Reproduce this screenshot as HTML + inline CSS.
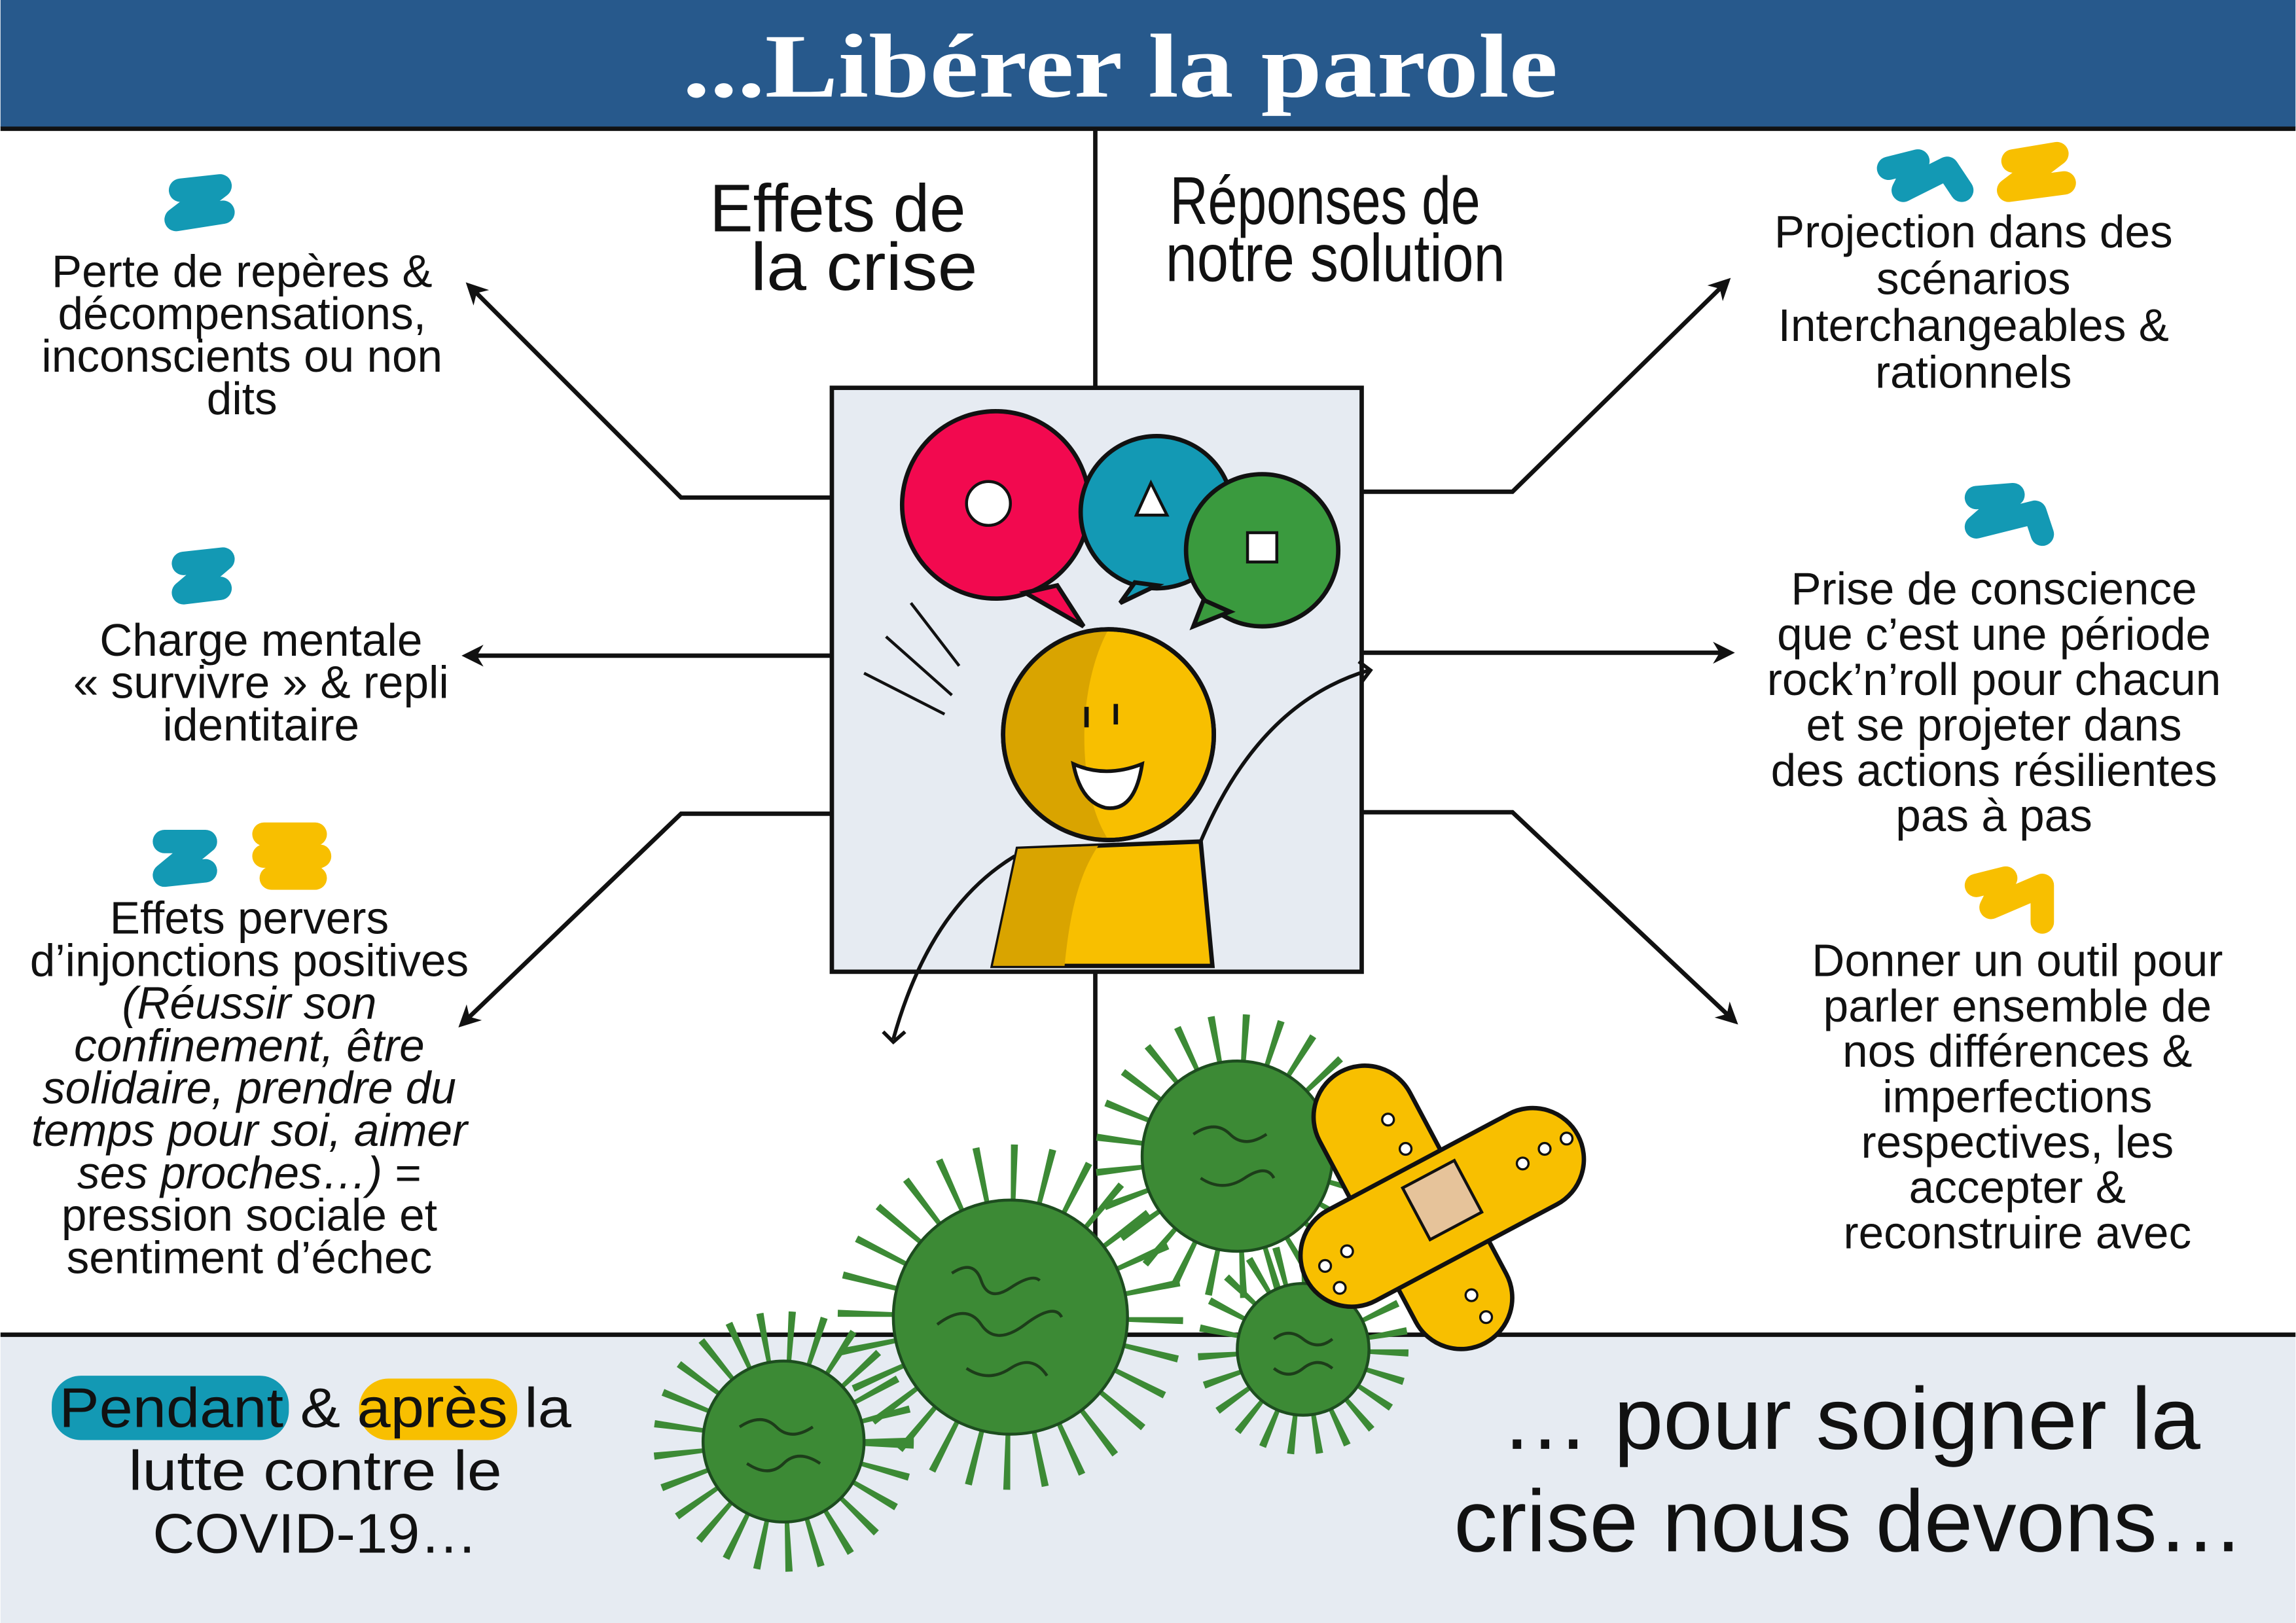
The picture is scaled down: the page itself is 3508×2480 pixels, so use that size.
<!DOCTYPE html>
<html><head><meta charset="utf-8">
<style>html,body{margin:0;padding:0;background:#fff}svg{display:block}</style></head>
<body>
<svg width="3508" height="2480" viewBox="0 0 1568 1109" xmlns="http://www.w3.org/2000/svg" font-family="Liberation Sans, sans-serif">
<defs>
<marker id="ah" viewBox="0 0 10 10" refX="8" refY="5" markerWidth="5" markerHeight="5" orient="auto"><path d="M0,0 L10,5 L0,10 L3,5 Z" fill="#111"/></marker>
</defs>
<rect width="1568" height="1109" fill="#fff"/>
<rect x="0" y="0" width="1568" height="87" fill="#27598c"/>
<text x="765" y="66" text-anchor="middle" font-family="Liberation Serif, serif" font-weight="bold" font-size="62" fill="#fff" textLength="598" lengthAdjust="spacingAndGlyphs">...Libérer la parole</text>
<line x1="0" y1="88" x2="1568" y2="88" stroke="#111" stroke-width="3"/>
<rect x="0" y="912" width="1568" height="197" fill="#e6ebf2"/>
<line x1="0" y1="912" x2="1568" y2="912" stroke="#111" stroke-width="3"/>
<line x1="748" y1="88" x2="748" y2="265" stroke="#111" stroke-width="3"/>
<line x1="748" y1="664" x2="748" y2="912" stroke="#111" stroke-width="3"/>
<g font-family="Liberation Sans Narrow, Liberation Sans, sans-serif" font-size="46" fill="#111">
<text x="572" y="158" text-anchor="middle" textLength="175" lengthAdjust="spacingAndGlyphs">Effets de</text>
<text x="590" y="198" text-anchor="middle" textLength="155" lengthAdjust="spacingAndGlyphs">la crise</text>
<text x="905" y="153" text-anchor="middle" textLength="212" lengthAdjust="spacingAndGlyphs">Réponses de</text>
<text x="912" y="192" text-anchor="middle" textLength="232" lengthAdjust="spacingAndGlyphs">notre solution</text>
</g>
<rect x="568" y="265" width="362" height="399" fill="#e6ebf2" stroke="#111" stroke-width="3"/>
<circle cx="680" cy="345" r="64" fill="#f2094f" stroke="#111" stroke-width="3"/>
<path d="M700,405 L740,428 L722,400 Z" fill="#f2094f" stroke="#111" stroke-width="3"/>
<circle cx="675" cy="344" r="15" fill="#fff" stroke="#111" stroke-width="2"/>
<circle cx="790" cy="350" r="52" fill="#1399b4" stroke="#111" stroke-width="3"/>
<path d="M775,398 L765,412 L790,400 Z" fill="#1399b4" stroke="#111" stroke-width="3"/>
<path d="M786,330 L776,352 L797,352 Z" fill="#fff" stroke="#111" stroke-width="2"/>
<circle cx="862" cy="376" r="52" fill="#3a9a3e" stroke="#111" stroke-width="3"/>
<path d="M822,410 L815,428 L840,418 Z" fill="#3a9a3e" stroke="#111" stroke-width="3"/>
<rect x="852" y="364" width="20" height="20" fill="#fff" stroke="#111" stroke-width="2"/>
<path d="M622,412 L655,455 M605,435 L650,475 M590,460 L645,488" stroke="#111" stroke-width="2" fill="none"/>
<path d="M695,580 L820,575 L828,660 L678,660 Z" fill="#f8bf00" stroke="#111" stroke-width="3"/>
<path d="M695,580 L750,578 C735,600 730,630 727,660 L678,660 Z" fill="#d9a400"/>
<circle cx="757" cy="502" r="72" fill="#f8bf00" stroke="#111" stroke-width="3"/>
<path d="M757,430 A72,72 0 0 0 757,574 C735,540 735,470 757,430 Z" fill="#d9a400"/>
<circle cx="757" cy="502" r="72" fill="none" stroke="#111" stroke-width="3"/>
<path d="M742,483 V497 M762,481 V495" stroke="#111" stroke-width="3"/>
<path d="M733,522 Q755,532 780,522 Q775,555 755,552 Q738,548 733,522 Z" fill="#fff" stroke="#111" stroke-width="2.5"/>
<path d="M693,585 Q635,620 610,710 M603,705 L610,712 L618,705" stroke="#111" stroke-width="2.5" fill="none"/>
<path d="M820,575 Q860,480 935,458 M928,452 L936,458 L930,466" stroke="#111" stroke-width="2.5" fill="none"/>
<g stroke="#111" stroke-width="3" fill="none">
<path d="M568,340 H465 L320,195" marker-end="url(#ah)"/>
<path d="M568,448 H318" marker-end="url(#ah)"/>
<path d="M568,556 H465 L315,700" marker-end="url(#ah)"/>
<path d="M930,336 H1033 L1180,192" marker-end="url(#ah)"/>
<path d="M930,446 H1182" marker-end="url(#ah)"/>
<path d="M930,555 H1033 L1185,698" marker-end="url(#ah)"/>
</g>
<g stroke-linecap="round" stroke-linejoin="round" fill="none" stroke-width="16">
<path d="M123,130 L150,127 L120,150 L152,145" stroke="#1399b4"/>
<path d="M125,385 L152,382 L125,405 L150,402" stroke="#1399b4"/>
<path d="M112,575 L140,575 L112,598 L140,595" stroke="#1399b4"/>
<path d="M180,570 L215,570 L180,585 L218,585 L185,600 L215,600" stroke="#f8bf00"/>
<path d="M1290,115 L1310,110 L1300,130 L1330,115 L1340,130" stroke="#1399b4"/>
<path d="M1375,110 L1405,105 L1372,130 L1410,125" stroke="#f8bf00"/>
<path d="M1350,340 L1375,338 L1350,360 L1390,350 L1395,365" stroke="#1399b4"/>
<path d="M1350,605 L1370,600 L1360,620 L1395,605 L1395,630" stroke="#f8bf00"/>
</g>
<g font-size="31" fill="#111" text-anchor="middle">
<text x="165" y="196">Perte de repères &amp;</text>
<text x="165" y="225">décompensations,</text>
<text x="165" y="254">inconscients ou non</text>
<text x="165" y="283">dits</text>
<text x="178" y="448">Charge mentale</text>
<text x="178" y="477">« survivre » &amp; repli</text>
<text x="178" y="506">identitaire</text>
<text x="170" y="638">Effets pervers</text>
<text x="170" y="667">d’injonctions positives</text>
<g font-style="italic">
<text x="170" y="696">(Réussir son</text>
<text x="170" y="725">confinement, être</text>
<text x="170" y="754">solidaire, prendre du</text>
<text x="170" y="783">temps pour soi, aimer</text>
<text x="170" y="812">ses proches…) <tspan font-style="normal">=</tspan></text>
</g>
<text x="170" y="841">pression sociale et</text>
<text x="170" y="870">sentiment d’échec</text>
<text x="1348" y="169">Projection dans des</text>
<text x="1348" y="201">scénarios</text>
<text x="1348" y="233">Interchangeables &amp;</text>
<text x="1348" y="265">rationnels</text>
<text x="1362" y="413">Prise de conscience</text>
<text x="1362" y="444">que c’est une période</text>
<text x="1362" y="475">rock’n’roll pour chacun</text>
<text x="1362" y="506">et se projeter dans</text>
<text x="1362" y="537">des actions résilientes</text>
<text x="1362" y="568">pas à pas</text>
<text x="1378" y="667">Donner un outil pour</text>
<text x="1378" y="698">parler ensemble de</text>
<text x="1378" y="729">nos différences &amp;</text>
<text x="1378" y="760">imperfections</text>
<text x="1378" y="791">respectives, les</text>
<text x="1378" y="822">accepter &amp;</text>
<text x="1378" y="853">reconstruire avec</text>
</g>
<rect x="35" y="940" width="162" height="44" rx="20" fill="#1399b4"/>
<rect x="245" y="942" width="108" height="42" rx="20" fill="#f8bf00"/>
<g font-size="38" fill="#111" text-anchor="middle">
<text x="215" y="975" textLength="350" lengthAdjust="spacingAndGlyphs">Pendant &amp; après la</text>
<text x="215" y="1018" textLength="255" lengthAdjust="spacingAndGlyphs">lutte contre le</text>
<text x="215" y="1061" textLength="222" lengthAdjust="spacingAndGlyphs">COVID-19…</text>
</g>
<g font-size="60" fill="#111" text-anchor="middle">
<text x="1264" y="990" textLength="478" lengthAdjust="spacingAndGlyphs">… pour soigner la</text>
<text x="1263" y="1060" textLength="540" lengthAdjust="spacingAndGlyphs">crise nous devons…</text>
</g>
<g stroke="#1d4d1f" fill="#3c8a35">
<circle cx="845" cy="790" r="80" fill="none" stroke="#3c8a35" stroke-width="34" stroke-dasharray="4 16"/>
<circle cx="845" cy="790" r="65" stroke-width="2"/>
<circle cx="690" cy="900" r="98" fill="none" stroke="#3c8a35" stroke-width="40" stroke-dasharray="4 18"/>
<circle cx="690" cy="900" r="80" stroke-width="2"/>
<circle cx="535" cy="985" r="72" fill="none" stroke="#3c8a35" stroke-width="34" stroke-dasharray="4 14"/>
<circle cx="535" cy="985" r="55" stroke-width="2"/>
<circle cx="890" cy="922" r="58" fill="none" stroke="#3c8a35" stroke-width="28" stroke-dasharray="4 12"/>
<circle cx="890" cy="922" r="45" stroke-width="2"/>
</g>
<g stroke="#1d3d1a" stroke-width="2" fill="none">
<path d="M650,870 q15,-10 20,5 t20,5 t20,-5 M640,905 q20,-15 30,0 t30,0 t25,-5 M660,935 q15,10 30,0 t25,5"/>
<path d="M815,775 q15,-10 25,0 t25,0 M820,805 q15,10 30,0 t20,0"/>
<path d="M505,975 q15,-10 25,0 t25,0 M510,1000 q15,10 25,0 t25,0"/>
<path d="M870,915 q10,-8 20,0 t20,0 M870,935 q10,8 20,0 t20,0"/>
</g>
<g stroke="#111" stroke-width="3">
<rect x="930" y="720" width="70" height="210" rx="35" fill="#f8bf00" transform="rotate(-28 965 825)"/>
<rect x="880" y="790" width="210" height="70" rx="35" fill="#f8bf00" transform="rotate(-28 985 825)"/>
<rect x="965" y="800" width="40" height="40" fill="#e6c39a" stroke-width="2" transform="rotate(-28 985 820)"/>
</g>
<g fill="#fff" stroke="#111" stroke-width="1.5">
<circle cx="948" cy="765" r="4"/><circle cx="960" cy="785" r="4"/><circle cx="1005" cy="885" r="4"/><circle cx="1015" cy="900" r="4"/>
<circle cx="905" cy="865" r="4"/><circle cx="920" cy="855" r="4"/><circle cx="1040" cy="795" r="4"/><circle cx="1055" cy="785" r="4"/><circle cx="1070" cy="778" r="4"/><circle cx="915" cy="880" r="4"/>
</g>
</svg>
</body></html>
